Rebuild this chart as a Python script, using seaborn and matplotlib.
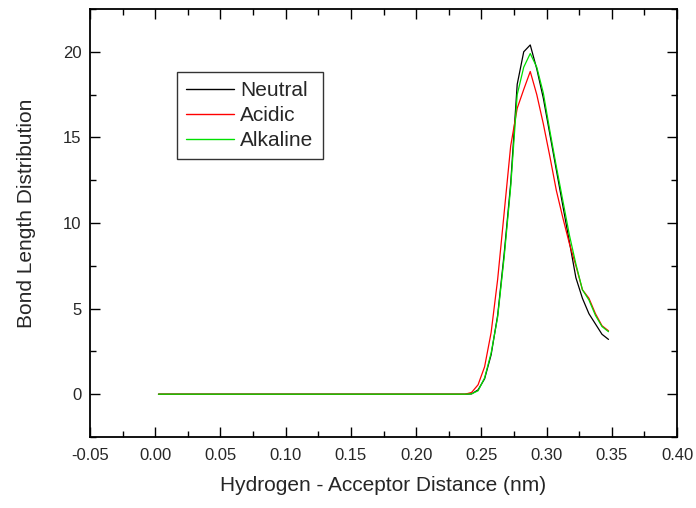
import numpy as np
import pandas as pd
import matplotlib
matplotlib.use("Agg")
import matplotlib.pyplot as plt
from matplotlib.ticker import MultipleLocator, FormatStrFormatter
import seaborn as sns

# ---- data ----
distance = [0.0025, 0.0075, 0.0125, 0.0175, 0.0225, 0.0275, 0.0325, 0.0375, 0.0425, 0.0475,
            0.0525, 0.0575, 0.0625, 0.0675, 0.0725, 0.0775, 0.0825, 0.0875, 0.0925, 0.0975,
            0.1025, 0.1075, 0.1125, 0.1175, 0.1225, 0.1275, 0.1325, 0.1375, 0.1425, 0.1475,
            0.1525, 0.1575, 0.1625, 0.1675, 0.1725, 0.1775, 0.1825, 0.1875, 0.1925, 0.1975,
            0.2025, 0.2075, 0.2125, 0.2175, 0.2225, 0.2275, 0.2325, 0.2375, 0.2425, 0.2475,
            0.2525, 0.2575, 0.2625, 0.2675, 0.2725, 0.2775, 0.2825, 0.2875, 0.2925, 0.2975,
            0.3025, 0.3075, 0.3125, 0.3175, 0.3225, 0.3275, 0.3325, 0.3375, 0.3425, 0.3475]

flat_zeros = [0.0] * 47  # the flat part from 0.0025 to 0.2325 nm

neutral_tail = [0.0, 0.02, 0.25, 0.9, 2.3, 4.6, 8.2, 12.3, 18.1, 20.0, 20.4, 19.0,
                17.3, 15.2, 13.1, 11.0, 8.9, 6.8, 5.6, 4.7, 4.1, 3.5, 3.2]
acidic_tail = [0.0, 0.1, 0.55, 1.6, 3.6, 6.7, 10.6, 14.5, 16.7, 17.8, 18.85, 17.5,
               15.8, 13.9, 11.9, 10.3, 8.8, 7.5, 6.1, 5.6, 4.7, 4.0, 3.7]
alkaline_tail = [0.0, 0.02, 0.2, 0.95, 2.4, 4.5, 8.0, 12.1, 17.5, 19.1, 19.9, 19.1,
                 17.6, 15.4, 13.3, 11.3, 9.3, 7.6, 6.1, 5.5, 4.6, 3.95, 3.65]

neutral = flat_zeros + neutral_tail
acidic = flat_zeros + acidic_tail
alkaline = flat_zeros + alkaline_tail

series_names = ["Neutral", "Acidic", "Alkaline"]
series_colors = ["#000000", "#ff0000", "#00e000"]

x_ticks = [-0.05, 0.00, 0.05, 0.10, 0.15, 0.20, 0.25, 0.30, 0.35, 0.40]
y_ticks = [0, 5, 10, 15, 20]

df = pd.concat([
    pd.DataFrame({"x": distance, "y": vals, "Condition": name})
    for name, vals in zip(series_names, [neutral, acidic, alkaline])
], ignore_index=True)

# ---- figure ----
sns.set_style("ticks")
plt.rcParams["font.family"] = ["Liberation Sans", "DejaVu Sans"]

fig = plt.figure(figsize=(6.96, 5.08), dpi=100)
ax = fig.add_axes([90 / 696, (508 - 437) / 508, (677 - 90) / 696, (437 - 9) / 508])

sns.lineplot(data=df, x="x", y="y", hue="Condition", hue_order=series_names,
             palette=dict(zip(series_names, series_colors)), linewidth=0.9,
             ax=ax, legend=True, estimator=None, sort=False)

ax.set_xlim(-0.05, 0.40)
ax.set_ylim(-2.5, 22.5)
ax.set_xticks(x_ticks)
ax.set_yticks(y_ticks)
ax.xaxis.set_major_formatter(FormatStrFormatter("%.2f"))
ax.xaxis.set_minor_locator(MultipleLocator(0.025))
ax.yaxis.set_minor_locator(MultipleLocator(2.5))

ax.tick_params(which="both", direction="in", top=True, right=True,
               labelsize=12, color="black", width=1.0)
ax.tick_params(which="major", length=7)
ax.tick_params(which="minor", length=4)
ax.tick_params(axis="x", which="major", pad=8)
ax.tick_params(axis="y", which="major", pad=6)
for s in ax.spines.values():
    s.set_linewidth(1.3)
    s.set_color("black")

ax.set_xlabel("Hydrogen - Acceptor Distance (nm)", fontsize=15, labelpad=9)
ax.set_ylabel("Bond Length Distribution", fontsize=15)
ax.yaxis.set_label_coords(-0.092, 0.523)

leg = ax.legend(loc="upper left", bbox_to_anchor=(0.148, 0.853), borderaxespad=0,
                frameon=True, fancybox=False, fontsize=15, handlelength=2.3,
                handletextpad=0.3, labelspacing=0.28, borderpad=0.45)
leg.get_frame().set_edgecolor("black")
leg.get_frame().set_linewidth(1.0)
for line in leg.get_lines():
    line.set_linewidth(1.0)

fig.savefig("out.png", dpi=100)
